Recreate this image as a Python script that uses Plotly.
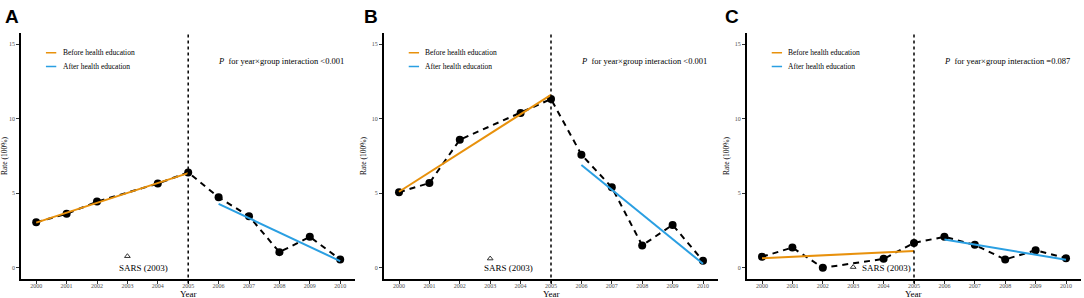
import plotly.graph_objects as go

# ---------------- data ----------------
years = [2000, 2001, 2002, 2004, 2005, 2006, 2007, 2008, 2009, 2010]
rate_A = [3.06, 3.62, 4.44, 5.65, 6.40, 4.73, 3.46, 1.05, 2.08, 0.56]
rate_B = [5.07, 5.69, 8.59, 10.38, 11.32, 7.59, 5.40, 1.50, 2.88, 0.47]
rate_C = [0.74, 1.36, 0.00, 0.60, 1.67, 2.08, 1.54, 0.56, 1.18, 0.65]

fit_before_years = [2000, 2005]
fit_after_years = [2006, 2010]
fit_before_A = [3.03, 6.35]
fit_after_A = [4.29, 0.45]
fit_before_B = [5.10, 11.60]
fit_after_B = [6.90, 0.27]
fit_before_C = [0.65, 1.12]
fit_after_C = [1.90, 0.54]

sars_year = 2003
sars_marker_y = [0.78, 0.62, 0.05]
sars_label_x = [2003.52, 2003.6, 2004.1]
sars_label = "SARS (2003)"

panel_letters = ["A", "B", "C"]
p_texts = ["<i>P</i>  for year×group interaction <0.001",
           "<i>P</i>  for year×group interaction <0.001",
           "<i>P</i>  for year×group interaction =0.087"]
legend_labels = ["Before health education", "After health education"]
x_ticks = list(range(2000, 2011))
y_ticks = [0, 5, 10, 15]

ORANGE = "#E8910C"
BLUE = "#2A9FE2"
SERIF = "Liberation Serif, Times New Roman, serif"

W, H = 1084, 298
lefts = [21, 383.8, 746.8]
pw = 334.4
ydom = [19 / H, 265 / H]

fig = go.Figure()
rates = [rate_A, rate_B, rate_C]
fits_b = [fit_before_A, fit_before_B, fit_before_C]
fits_a = [fit_after_A, fit_after_B, fit_after_C]

layout = {}
for i in range(3):
    sfx = "" if i == 0 else str(i + 1)
    xa, ya = "x" + sfx, "y" + sfx
    # dashed observed line + points
    fig.add_trace(go.Scatter(x=years, y=rates[i], mode="lines+markers",
                             line=dict(color="black", width=2, dash="6px,5px"),
                             marker=dict(color="black", size=8),
                             xaxis=xa, yaxis=ya, showlegend=False))
    fig.add_trace(go.Scatter(x=fit_before_years, y=fits_b[i], mode="lines",
                             line=dict(color=ORANGE, width=2),
                             xaxis=xa, yaxis=ya, showlegend=False))
    fig.add_trace(go.Scatter(x=fit_after_years, y=fits_a[i], mode="lines",
                             line=dict(color=BLUE, width=2),
                             xaxis=xa, yaxis=ya, showlegend=False))
    fig.add_trace(go.Scatter(x=[sars_year], y=[sars_marker_y[i]], mode="markers",
                             marker=dict(symbol="triangle-up-open", size=5,
                                         color="#333333", line=dict(width=1)),
                             xaxis=xa, yaxis=ya, showlegend=False))

    x0 = lefts[i] / W
    x1 = (lefts[i] + pw) / W
    layout["xaxis" + sfx] = dict(
        domain=[x0, x1], range=[1999.5, 2010.5], anchor=ya,
        tickmode="array", tickvals=x_ticks, ticktext=[str(t) for t in x_ticks],
        ticks="outside", ticklen=3, tickcolor="#333333", tickwidth=1,
        ticklabelstandoff=-3,
        showline=True, linecolor="black", linewidth=1.5, showgrid=False,
        zeroline=False, tickfont=dict(family=SERIF, size=6, color="#4D4D4D"),
    )
    layout["yaxis" + sfx] = dict(
        domain=ydom, range=[-0.75, 15.75], anchor=xa,
        tickmode="array", tickvals=y_ticks,
        ticks="outside", ticklen=3, tickcolor="#333333", tickwidth=1,
        showline=True, linecolor="black", linewidth=1.5, showgrid=False,
        zeroline=False, tickfont=dict(family=SERIF, size=6, color="#4D4D4D"),
        title=dict(text="Rate (100%)", font=dict(family=SERIF, size=7.5, color="black"),
                   standoff=4),
    )
    # x axis title "Year"
    fig.add_annotation(xref=xa + " domain", yref="paper", x=0.5, y=(H - 293.5) / H,
                       text="Year", showarrow=False, xanchor="center", yanchor="middle",
                       font=dict(family=SERIF, size=9, color="black"))

    # vertical dotted line at 2005
    fig.add_shape(type="line", xref=xa, yref=ya + " domain", x0=2005, x1=2005,
                  y0=-0.018, y1=1, line=dict(color="black", width=1.5, dash="dot"))
    # legend (inside top-left)
    for j, (lab, col) in enumerate(zip(legend_labels, [ORANGE, BLUE])):
        yy = 14.42 - j * 0.91
        fig.add_shape(type="line", xref=xa, yref=ya, x0=2000.32, x1=2000.66,
                      y0=yy, y1=yy, line=dict(color=col, width=1.5))
        fig.add_annotation(xref=xa, yref=ya, x=2000.8, y=yy, text=lab,
                           showarrow=False, xanchor="left", yanchor="middle",
                           font=dict(family=SERIF, size=7.5, color="black"))
    # P value text
    fig.add_annotation(xref=xa, yref=ya, x=2005.93, y=13.9, text=p_texts[i],
                       showarrow=False, xanchor="left", yanchor="middle",
                       font=dict(family=SERIF, size=8.5, color="black"))
    # SARS label
    fig.add_annotation(xref=xa, yref=ya, x=sars_label_x[i], y=0.0, text=sars_label,
                       showarrow=False, xanchor="center", yanchor="middle",
                       font=dict(family=SERIF, size=9, color="black"))
    # panel letter
    fig.add_annotation(xref="paper", yref="paper", x=[3, 362, 723][i] / W, y=1 - 4 / H,
                       text="<b>%s</b>" % panel_letters[i], showarrow=False,
                       xanchor="left", yanchor="top",
                       font=dict(family="Liberation Sans, Arial, sans-serif", size=19,
                                 color="black"))

fig.update_layout(**layout)
fig.update_layout(width=W, height=H, margin=dict(l=0, r=0, t=0, b=0),
                  paper_bgcolor="white", plot_bgcolor="white", showlegend=False)
fig.write_html("out.html", config={"displayModeBar": False},
               post_script="document.body.style.margin='0';document.body.style.overflow='hidden';")
